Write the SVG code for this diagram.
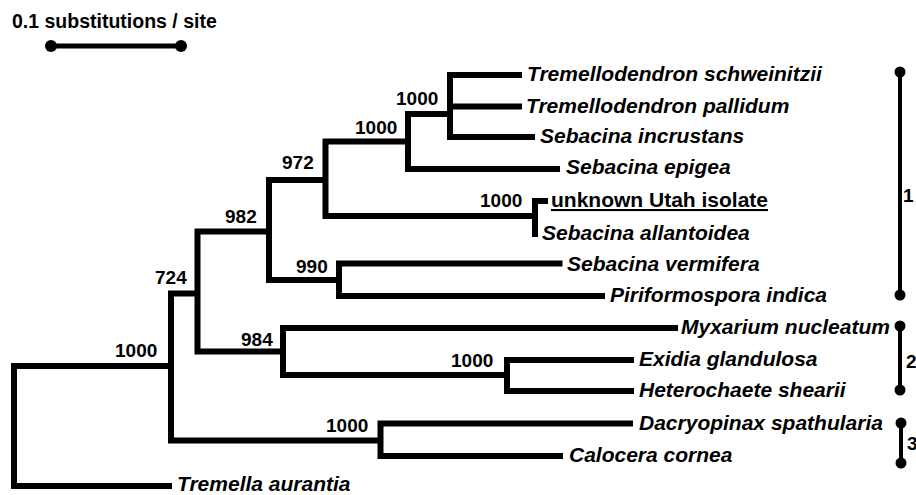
<svg xmlns="http://www.w3.org/2000/svg" width="916" height="495" viewBox="0 0 916 495">
<style>
.br{fill:none;stroke:#000;stroke-width:6;stroke-linejoin:miter;stroke-linecap:butt}
.bk{fill:none;stroke:#000;stroke-width:4}
.dot{fill:#000}
.tx{font-family:"Liberation Sans",Arial,sans-serif;font-weight:bold;font-style:italic;font-size:21px;fill:#000}
.bs{font-family:"Liberation Sans",Arial,sans-serif;font-weight:bold;font-size:19px;fill:#000}
</style>
<rect width="916" height="495" fill="#fff"/>
<g id="scale">
<text class="bs" x="12" y="27.5" style="font-size:19.5px">0.1 substitutions / site</text>
<line class="br" x1="51" y1="46" x2="181" y2="46" style="stroke-width:5"/>
<circle class="dot" cx="51" cy="46" r="6"/>
<circle class="dot" cx="181" cy="46" r="6"/>
</g>
<g id="connectors">
<path class="br" d="M171 366 H14 V486 H172"/>
<path class="br" d="M197.5 293.5 H171 V440.5 H380.5"/>
<path class="br" d="M269 231.5 H197.5 V351.5 H283"/>
<path class="br" d="M325.5 180 H269 V280 H339"/>
<path class="br" d="M408 141.5 H325.5 V216 H535"/>
<path class="br" d="M450 114 H408 V169 H560"/>
<path class="br" d="M522 75 H450 V137 H535"/>
<path class="br" d="M450 106.5 H522"/>
<path class="br" d="M548 201 H535 V237"/>
<path class="br" d="M562.5 263.5 H339 V296 H605"/>
<path class="br" d="M678 328 H283 V375 H507"/>
<path class="br" d="M634 360 H507 V391 H634"/>
<path class="br" d="M633 423.5 H380.5 V456 H563"/>
</g>
<g id="node-root"><text class="bs" x="115" y="357">1000</text></g>
<g id="node-724"><text class="bs" x="155" y="283.5">724</text></g>
<g id="node-982"><text class="bs" x="225" y="223">982</text></g>
<g id="node-972"><text class="bs" x="282" y="168.5">972</text></g>
<g id="node-1000a"><text class="bs" x="355" y="133.5">1000</text></g>
<g id="node-1000b"><text class="bs" x="396" y="105">1000</text></g>
<g id="node-1000c"><text class="bs" x="480" y="207">1000</text></g>
<g id="node-990"><text class="bs" x="296" y="273">990</text></g>
<g id="node-984"><text class="bs" x="241" y="346">984</text></g>
<g id="node-1000d"><text class="bs" x="451" y="367">1000</text></g>
<g id="node-1000e"><text class="bs" x="326" y="432">1000</text></g>
<g id="taxon-t-schweinitzii"><text class="tx" x="527" y="81">Tremellodendron schweinitzii</text></g>
<g id="taxon-t-pallidum"><text class="tx" x="526" y="112.5">Tremellodendron pallidum</text></g>
<g id="taxon-s-incrustans"><text class="tx" x="540" y="143">Sebacina incrustans</text></g>
<g id="taxon-s-epigea"><text class="tx" x="566" y="174">Sebacina epigea</text></g>
<g id="taxon-utah"><text class="tx" x="551" y="207" style="font-style:normal" text-decoration="underline">unknown Utah isolate</text></g>
<g id="taxon-s-allantoidea"><text class="tx" x="542" y="240">Sebacina allantoidea</text></g>
<g id="taxon-s-vermifera"><text class="tx" x="567" y="270.5">Sebacina vermifera</text></g>
<g id="taxon-p-indica"><text class="tx" x="610" y="301.5">Piriformospora indica</text></g>
<g id="taxon-m-nucleatum"><text class="tx" x="681" y="334">Myxarium nucleatum</text></g>
<g id="taxon-e-glandulosa"><text class="tx" x="639" y="366">Exidia glandulosa</text></g>
<g id="taxon-h-shearii"><text class="tx" x="639" y="397">Heterochaete shearii</text></g>
<g id="taxon-d-spathularia"><text class="tx" x="639" y="430">Dacryopinax spathularia</text></g>
<g id="taxon-c-cornea"><text class="tx" x="569" y="462">Calocera cornea</text></g>
<g id="taxon-t-aurantia"><text class="tx" x="177" y="491">Tremella aurantia</text></g>
<g id="group-1">
<line class="bk" x1="900" y1="72" x2="900" y2="295"/>
<circle class="dot" cx="900" cy="72" r="5.5"/>
<circle class="dot" cx="900" cy="295" r="5.5"/>
<text class="bs" x="903" y="202">1</text>
</g>
<g id="group-2">
<line class="bk" x1="900" y1="326" x2="900" y2="390"/>
<circle class="dot" cx="900" cy="326" r="5.5"/>
<circle class="dot" cx="900" cy="390" r="5.5"/>
<text class="bs" x="906" y="368">2</text>
</g>
<g id="group-3">
<line class="bk" x1="901" y1="423" x2="901" y2="463"/>
<circle class="dot" cx="901" cy="423" r="5.5"/>
<circle class="dot" cx="901" cy="463" r="5.5"/>
<text class="bs" x="907" y="450">3</text>
</g>
</svg>
